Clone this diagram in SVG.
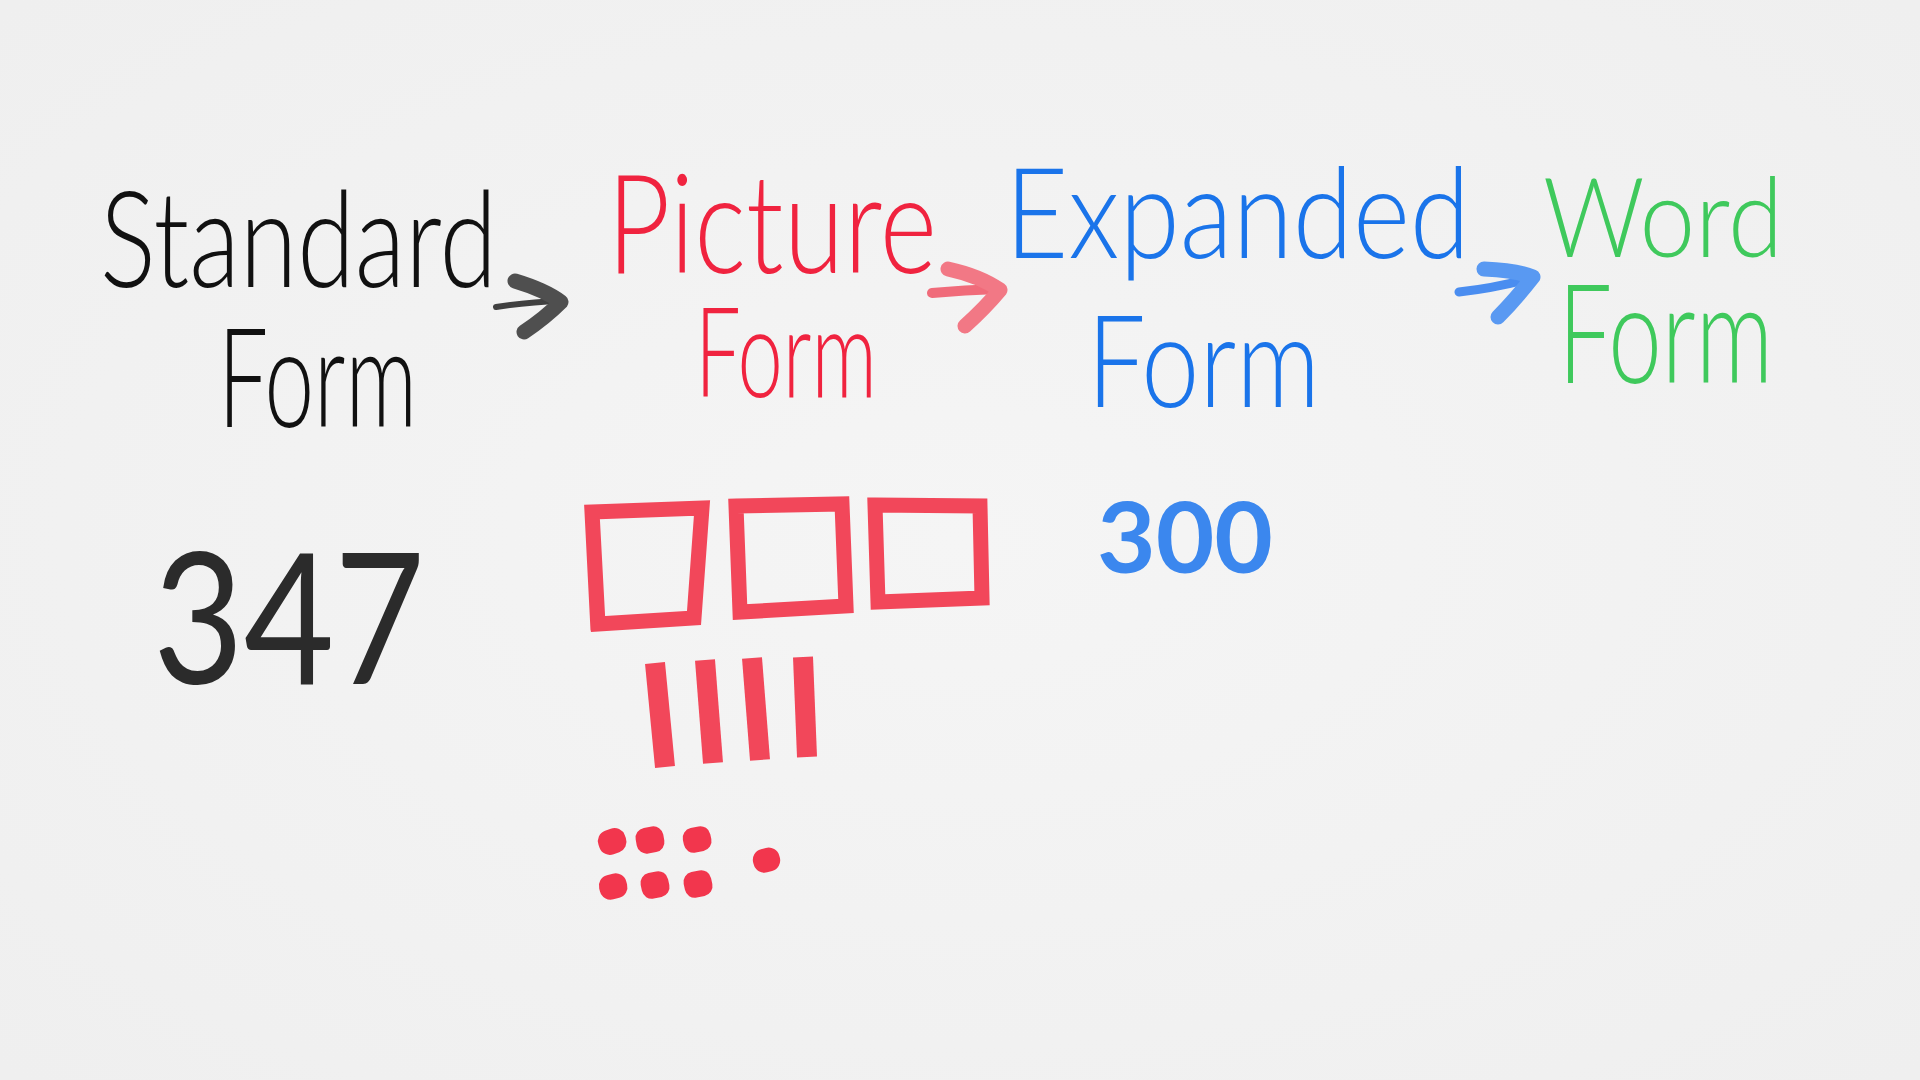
<svg xmlns="http://www.w3.org/2000/svg" width="1920" height="1080" viewBox="0 0 1920 1080">
  <defs>
    <radialGradient id="bg" cx="50%" cy="50%" r="70%">
      <stop offset="0" stop-color="#f5f5f5"/>
      <stop offset="1" stop-color="#efefef"/>
    </radialGradient>
  </defs>
  <style>
    .hw { font-family: Lato, "Open Sans", "Liberation Sans", sans-serif; font-weight: 300; }
    .num { font-family: Lato, "Open Sans", "Liberation Sans", sans-serif; }
    .black { fill: #111111; }
    .red { fill: #f0233f; }
    .blue { fill: #1a74ea; }
    .green { fill: #3fc95c; }
    .shaft { fill: none; stroke-linecap: round; stroke-linejoin: round; }
    .head { fill: none; stroke-linecap: round; stroke-linejoin: round; stroke-width: 15; }
    .box { fill: none; stroke: #f2475a; stroke-width: 15; stroke-linejoin: miter; stroke-linecap: butt; }
    .rod { stroke: #f2475a; stroke-width: 20; stroke-linecap: butt; }
    .dot { fill: #f2364d; }
  </style>
  <rect x="0" y="0" width="1920" height="1080" fill="url(#bg)"/>

  <g id="standard-form">
    <text class="hw black" x="100" y="287" font-size="135" textLength="397" lengthAdjust="spacingAndGlyphs">Standard</text>
    <text class="hw black" x="218" y="427" font-size="138" textLength="199" lengthAdjust="spacingAndGlyphs">Form</text>
  </g>

  <g id="picture-form">
    <text class="hw red" x="607" y="273" font-size="138" textLength="330" lengthAdjust="spacingAndGlyphs">Picture</text>
    <text class="hw red" x="695" y="397" font-size="124" textLength="182" lengthAdjust="spacingAndGlyphs">Form</text>
  </g>

  <g id="expanded-form">
    <text class="hw blue" x="1005" y="258" font-size="127" textLength="465" lengthAdjust="spacingAndGlyphs">Expanded</text>
    <text class="hw blue" x="1087" y="407" font-size="128" textLength="233" lengthAdjust="spacingAndGlyphs">Form</text>
  </g>

  <g id="word-form">
    <text class="hw green" x="1543" y="257" font-size="110" textLength="240" lengthAdjust="spacingAndGlyphs">Word</text>
    <text class="hw green" x="1558" y="383" font-size="138" textLength="215" lengthAdjust="spacingAndGlyphs">Form</text>
  </g>

  <g id="standard-number">
    <text class="num" x="153" y="684" font-size="182" font-weight="400" fill="#2b2b2b" textLength="272" lengthAdjust="spacingAndGlyphs">347</text>
  </g>

  <g id="expanded-number">
    <text class="num" x="1097" y="573" font-size="98" font-weight="700" fill="#3b87ee" textLength="176" lengthAdjust="spacingAndGlyphs">300</text>
  </g>

  <g id="picture-blocks">
    <g id="hundreds">
      <path class="box" d="M592 512 L702 508 L694 618 L598 624 Z M592 512 L598 630"/>
      <path class="box" d="M736 506 L842 504 L846 606 L740 612 Z"/>
      <path class="box" d="M875 505 L980 506 L982 598 L878 602 Z"/>
    </g>
    <g id="tens">
      <line class="rod" x1="655" y1="663" x2="665" y2="767"/>
      <line class="rod" x1="705" y1="660" x2="713" y2="763"/>
      <line class="rod" x1="752" y1="658" x2="760" y2="760"/>
      <line class="rod" x1="803" y1="657" x2="807" y2="757"/>
    </g>
    <g id="ones">
      <rect class="dot" x="598" y="829" width="28" height="25" rx="11" transform="rotate(-20 612 841)"/>
      <rect class="dot" x="636" y="827" width="28" height="26" rx="10" transform="rotate(-10 650 840)"/>
      <rect class="dot" x="683" y="827" width="28" height="25" rx="10" transform="rotate(-12 697 839)"/>
      <rect class="dot" x="753" y="848" width="27" height="24" rx="11" transform="rotate(-15 767 860)"/>
      <rect class="dot" x="599" y="874" width="28" height="25" rx="11" transform="rotate(-15 613 886)"/>
      <rect class="dot" x="641" y="872" width="28" height="26" rx="10" transform="rotate(-12 655 885)"/>
      <rect class="dot" x="684" y="871" width="28" height="26" rx="10" transform="rotate(-12 698 884)"/>
    </g>
  </g>

  <g id="connectors">
    <g id="arrow-standard-picture" opacity="0.85">
      <path class="shaft" stroke="#222222" stroke-width="6" d="M496 307 Q530 302 560 301"/>
      <path class="head" stroke="#333333" d="M515 281 Q545 290 561 302 Q545 318 524 332"/>
    </g>
    <g id="arrow-picture-expanded" opacity="0.8">
      <path class="shaft" stroke="#f04a5c" stroke-width="10" d="M932 293 Q965 290 998 289"/>
      <path class="head" stroke="#f25a6a" stroke-width="17" d="M948 269 Q980 276 1000 290 Q985 308 965 326"/>
    </g>
    <g id="arrow-expanded-word" opacity="0.85">
      <path class="shaft" stroke="#2d7cf0" stroke-width="9" d="M1459 292 Q1495 288 1532 278"/>
      <path class="head" stroke="#3f8af2" stroke-width="16" d="M1484 269 Q1515 270 1533 277 Q1515 300 1498 317"/>
    </g>
  </g>
</svg>
